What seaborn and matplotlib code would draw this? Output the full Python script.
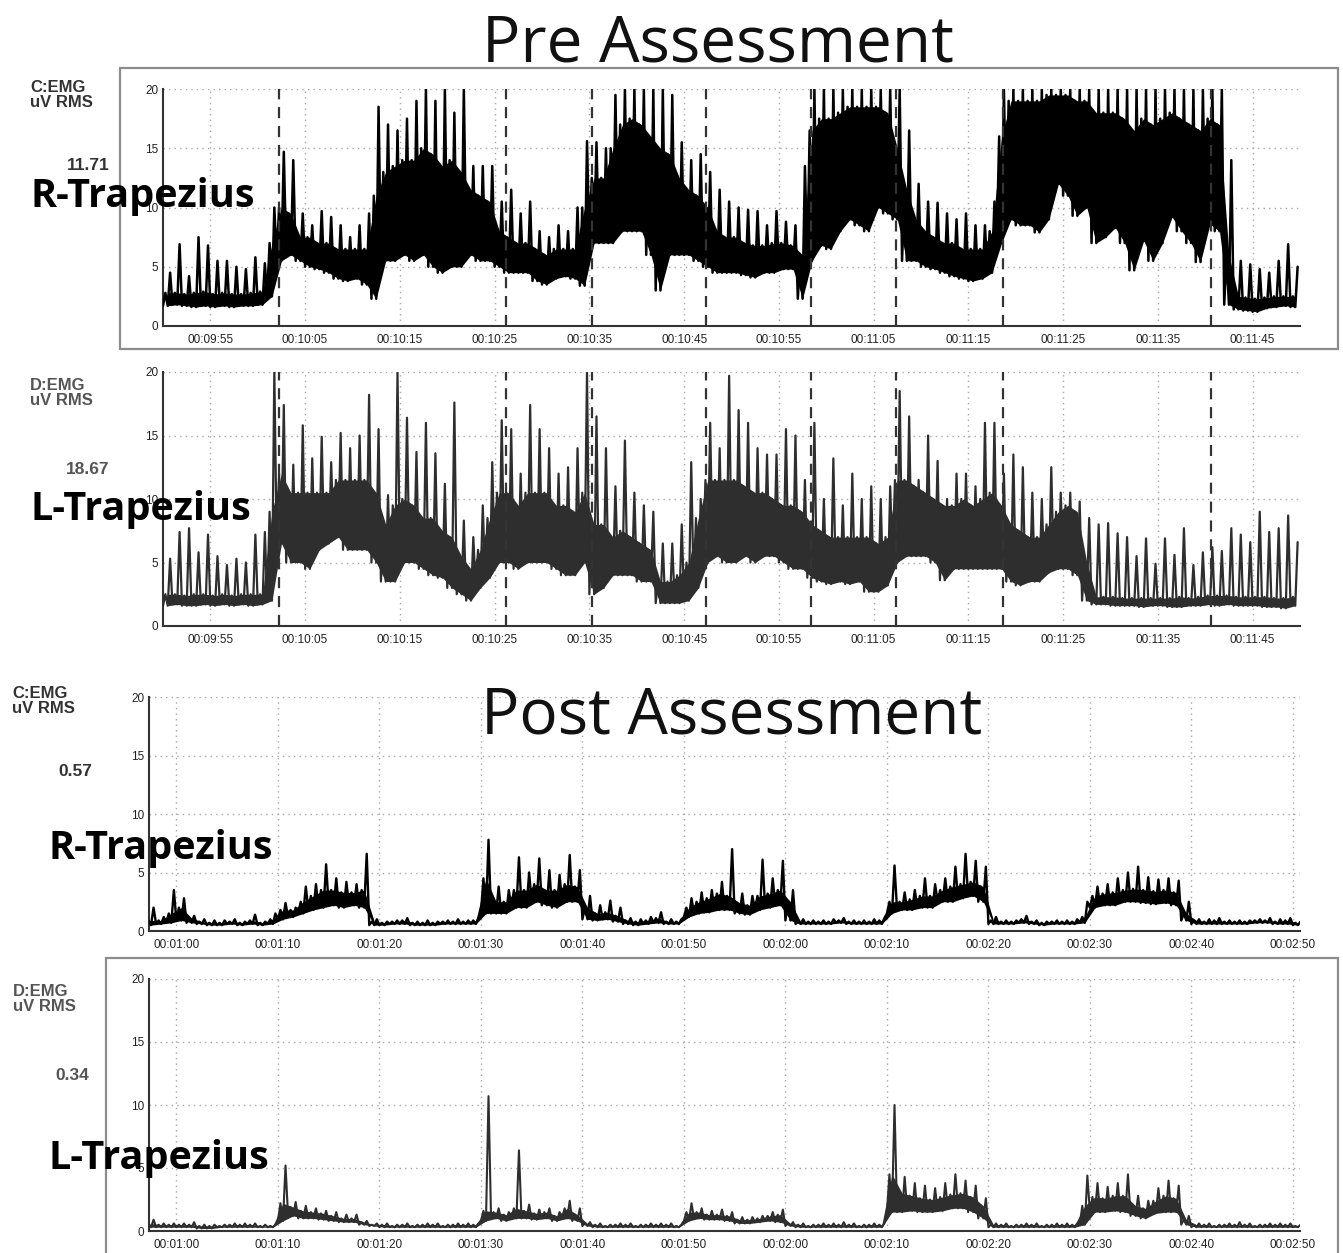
import matplotlib
matplotlib.use("Agg")
import matplotlib.pyplot as plt
import seaborn as sns
import pandas as pd
from matplotlib.patches import Rectangle
from matplotlib.ticker import MultipleLocator

# ---------------- DATA (uV RMS, one bin per second: trough / dense band top / spike) -------------
pre_start = 590  # 00:09:50 in seconds
pre_r_lo = [1.7,1.8,1.7,1.6,1.7,1.6,1.7,1.6,1.7,1.7,
            1.8,2.5,5.5,6.0,5.5,5.0,4.8,4.5,4.0,3.8,
            4.0,3.5,2.3,5.5,5.5,6.0,5.5,6.0,5.0,4.5,
            5.0,5.0,6.0,5.5,5.5,5.0,4.5,4.5,4.5,3.8,
            3.5,4.0,4.2,4.0,3.4,7.0,7.0,7.0,8.0,8.0,
            8.0,6.0,3.0,6.0,6.0,6.0,5.5,5.0,4.5,4.5,
            4.5,4.3,4.1,4.5,4.5,4.8,4.8,2.3,5.5,6.8,
            6.5,8.0,9.0,8.5,8.0,10.0,9.5,9.0,5.5,5.5,
            5.0,4.8,4.5,4.2,4.0,3.8,4.0,4.5,7.0,9.0,
            8.5,8.5,7.9,9.0,12.0,11.0,9.3,10.0,7.0,7.5,
            8.3,7.0,4.7,7.2,5.5,7.0,9.2,8.0,7.0,5.4,
            8.6,8.0,1.8,1.4,1.3,1.2,1.5,1.6,1.7,1.6]
pre_r_band = [2.8,2.8,2.7,2.8,2.9,2.7,2.8,2.7,2.7,2.8,
              2.9,7.0,10.0,9.5,7.5,7.5,7.0,7.0,6.5,6.5,
              6.5,6.5,11.0,13.0,13.5,14.0,14.0,15.0,14.5,13.5,
              14.0,13.0,11.5,11.0,10.5,8.0,7.5,7.0,7.0,6.5,
              6.0,6.5,6.5,6.5,10.0,12.5,12.5,15.0,17.0,17.5,
              17.0,16.0,15.0,14.5,12.5,11.5,11.0,10.0,8.0,7.5,
              7.5,7.0,6.8,6.8,7.0,7.0,6.8,6.0,16.5,17.5,
              17.5,18.0,18.5,18.5,18.5,18.5,18.0,15.0,11.5,9.0,
              8.0,7.5,7.0,7.0,6.5,6.5,6.5,8.0,16.0,19.0,
              19.0,19.0,19.0,19.5,19.5,19.5,19.0,19.0,18.0,18.0,
              18.0,17.5,16.5,17.5,17.0,17.5,18.0,17.5,17.0,16.5,
              17.5,17.0,6.0,2.5,2.4,2.3,2.4,2.5,2.5,2.5]
pre_r_peak = [4.5,6.9,4.2,7.5,6.8,5.5,5.5,5.0,4.8,5.8,
              5.3,10.0,14.7,14.0,9.5,8.5,9.7,9.2,8.5,7.5,
              8.5,9.5,18.5,17.0,16.5,17.5,19.0,20.0,19.0,20.0,
              18.0,20.0,13.5,13.5,13.5,10.5,11.5,9.5,10.5,8.0,
              7.5,8.5,8.0,10.0,15.6,15.5,15.0,19.5,20.0,20.0,
              20.0,20.0,20.0,19.5,15.5,14.0,14.5,13.0,11.5,10.5,
              10.0,9.8,9.7,8.5,9.7,8.8,8.5,13.5,20.0,20.0,
              20.0,20.0,20.0,20.0,20.0,20.0,20.0,20.0,16.5,12.0,
              10.5,10.4,9.5,9.0,9.5,8.5,8.5,10.5,20.0,20.0,
              20.0,20.0,20.0,20.0,20.0,20.0,20.0,20.0,20.0,20.0,
              20.0,20.0,20.0,20.0,20.0,20.0,20.0,20.0,20.0,20.0,
              20.0,20.0,14.0,5.5,5.2,4.8,4.5,5.5,6.9,5.0]

pre_l_lo = [1.6,1.7,1.6,1.6,1.7,1.6,1.7,1.6,1.7,1.6,
            1.7,2.0,6.5,5.0,5.0,4.5,6.0,6.5,7.0,6.0,
            6.0,6.0,5.0,3.5,3.5,5.0,5.0,4.5,4.0,3.8,
            3.0,2.5,2.0,3.0,3.8,5.0,5.0,4.5,5.0,5.0,
            5.0,4.5,4.0,4.0,5.0,2.5,3.0,4.0,4.0,4.0,
            3.5,3.5,1.8,1.8,1.8,2.0,3.0,5.0,5.5,5.0,
            5.0,5.5,5.0,5.5,5.5,5.0,4.5,4.5,3.8,3.5,
            3.3,3.5,3.3,3.5,2.7,2.7,3.2,5.0,5.5,5.5,
            5.5,5.0,3.6,4.5,4.5,4.5,4.5,4.5,4.5,3.5,
            3.2,3.5,3.5,4.2,4.5,4.5,4.0,2.0,1.7,1.7,
            1.6,1.6,1.6,1.5,1.6,1.6,1.5,1.5,1.6,1.6,
            1.7,1.6,1.7,1.6,1.6,1.6,1.5,1.5,1.4,1.6]
pre_l_band = [2.5,2.5,2.4,2.5,2.5,2.4,2.5,2.4,2.5,2.5,
              2.5,9.0,12.0,10.5,10.5,10.5,10.5,10.5,11.5,11.5,
              11.5,11.5,10.5,8.0,9.5,10.0,9.5,8.5,8.5,7.5,
              7.0,5.5,4.5,6.0,8.5,10.5,10.5,9.5,10.5,10.5,
              10.5,9.5,9.5,9.0,10.5,8.0,8.0,7.0,7.5,7.0,
              6.5,6.0,3.5,3.5,4.0,5.0,8.5,11.5,11.5,11.5,
              11.5,11.0,10.5,10.5,10.0,9.5,9.5,9.0,8.0,7.5,
              7.0,7.0,7.0,7.0,7.0,6.5,7.0,11.5,11.5,11.0,
              10.5,10.0,9.5,9.5,10.0,9.5,10.0,10.5,9.5,8.0,
              7.5,7.0,7.0,8.0,9.0,9.5,9.0,5.0,2.3,2.3,
              2.3,2.2,2.2,2.2,2.2,2.2,2.2,2.3,2.2,2.3,
              2.4,2.4,2.4,2.3,2.3,2.3,2.3,2.2,2.2,2.3]
pre_l_peak = [5.3,7.4,7.7,5.8,7.2,5.5,4.8,5.3,5.0,7.2,
              7.4,20.0,17.4,12.7,15.8,13.2,14.9,12.9,15.2,14.0,
              15.0,18.2,15.5,10.3,20.0,16.4,13.7,16.0,13.6,11.2,
              17.6,8.3,7.0,9.5,12.9,16.2,15.5,12.0,17.4,15.5,
              14.0,12.0,12.5,14.0,20.0,16.5,14.0,11.0,14.6,10.5,
              9.5,9.0,6.5,6.5,8.0,12.9,10.0,16.0,14.0,19.7,
              17.0,16.0,14.0,13.5,13.5,15.5,15.0,11.5,16.0,10.0,
              13.2,9.5,12.0,10.0,11.0,10.0,11.0,18.5,16.5,11.5,
              15.0,13.0,10.0,12.0,12.0,11.0,16.0,16.0,12.0,13.5,
              12.5,10.5,10.0,12.5,10.5,10.5,9.8,8.5,8.0,8.1,
              7.3,7.0,5.5,6.9,4.9,6.9,5.6,7.7,4.8,5.8,
              6.2,5.9,7.7,7.2,6.6,9.0,7.4,7.7,8.7,6.6]

pre_markers = [602.25, 626.2, 635.25, 647.3, 658.4, 667.4, 678.7, 700.6]
pre_tick_seconds = [595, 605, 615, 625, 635, 645, 655, 665, 675, 685, 695, 705]
pre_tick_labels = ["00:09:55", "00:10:05", "00:10:15", "00:10:25", "00:10:35", "00:10:45",
                   "00:10:55", "00:11:05", "00:11:15", "00:11:25", "00:11:35", "00:11:45"]

post_start = 57  # seconds
post_r_lo = [0.5,0.6,0.7,0.9,0.7,0.6,0.5,0.5,0.6,0.5,
             0.6,0.5,0.6,1.0,1.2,1.5,1.8,2.0,2.2,2.0,
             2.2,2.0,0.5,0.5,0.6,0.6,0.5,0.5,0.5,0.6,
             0.6,0.6,0.6,1.5,1.5,1.5,2.0,2.0,2.5,2.2,
             2.0,2.5,2.5,1.0,0.9,1.0,0.8,0.6,0.5,0.6,
             0.7,0.6,0.6,1.2,1.5,1.6,1.8,1.8,1.5,1.4,
             1.8,2.0,2.2,0.9,0.6,0.6,0.6,0.6,0.7,0.6,
             0.6,0.6,0.6,1.5,1.8,1.8,2.0,2.0,2.5,2.5,
             2.8,3.0,2.5,0.6,0.6,0.6,0.7,0.6,0.5,0.6,
             0.6,0.6,0.7,2.0,2.2,2.2,2.5,2.5,2.4,2.3,
             2.4,2.2,0.9,0.6,0.6,0.6,0.6,0.6,0.6,0.7,
             0.7,0.6,0.6,0.5]
post_r_band = [0.9,0.9,1.5,2.0,1.1,0.8,0.7,0.7,0.8,0.7,
               0.9,0.7,1.0,1.8,1.8,2.5,3.0,3.5,3.5,3.3,
               3.3,3.5,0.8,0.7,0.8,0.9,0.7,0.7,0.7,0.8,
               0.8,0.8,0.9,4.5,2.5,2.5,3.5,3.5,4.0,3.5,
               3.5,4.0,3.8,2.0,1.5,1.6,1.3,0.9,0.8,0.9,
               1.1,0.8,0.8,2.0,2.5,2.8,3.2,3.0,2.4,2.2,
               3.0,3.2,3.5,2.5,0.8,0.8,0.8,0.8,0.9,0.8,
               0.8,0.8,0.9,2.5,2.5,2.7,3.0,3.0,3.5,3.8,
               4.0,4.2,3.8,0.9,0.8,0.8,1.0,0.8,0.7,0.8,
               0.8,0.8,1.2,3.0,3.2,3.3,3.5,3.6,3.5,3.4,
               3.5,3.3,1.5,0.9,0.8,0.9,0.8,0.8,0.8,0.9,
               0.9,0.8,0.9,0.7]
post_r_peak = [2.0,1.2,3.5,2.8,1.3,1.0,0.9,0.9,1.0,0.8,
               1.4,0.8,1.5,2.4,2.0,3.8,4.0,5.7,4.5,4.2,
               4.0,6.6,1.0,0.8,0.9,1.1,0.8,0.9,0.8,0.9,
               1.0,0.9,1.1,7.8,3.8,3.5,6.3,5.0,6.2,5.2,
               4.8,6.5,5.2,3.0,2.2,2.6,2.0,1.1,1.0,1.2,
               1.6,1.0,1.0,2.8,3.3,3.5,4.2,7.0,3.2,3.0,
               6.1,4.5,6.0,3.5,1.0,0.9,0.9,1.0,1.1,0.9,
               0.9,1.0,1.1,5.6,3.3,3.5,4.5,4.0,4.5,5.5,
               6.6,6.0,5.5,1.2,0.9,0.9,1.3,0.9,0.8,0.9,
               0.9,1.0,2.5,3.8,4.0,4.5,5.0,5.5,4.6,4.4,
               4.5,4.3,2.5,1.0,1.0,1.1,0.9,0.9,0.9,1.0,
               1.1,1.0,1.1,0.8]

post_l_lo = [0.3,0.3,0.3,0.3,0.3,0.2,0.2,0.3,0.3,0.3,
             0.3,0.3,0.3,0.8,1.2,1.0,1.0,0.9,0.8,0.7,
             0.7,0.5,0.4,0.3,0.3,0.3,0.3,0.3,0.3,0.3,
             0.3,0.3,0.3,0.8,1.0,0.8,1.0,1.0,0.9,1.0,
             0.8,1.0,0.8,0.4,0.3,0.3,0.3,0.3,0.3,0.3,
             0.3,0.3,0.3,0.8,1.0,0.9,0.9,0.8,0.6,0.6,
             0.7,0.8,0.7,0.4,0.3,0.3,0.3,0.3,0.3,0.3,
             0.3,0.3,0.3,1.5,1.5,1.6,1.5,1.5,1.6,1.8,
             1.8,1.5,1.0,0.3,0.3,0.3,0.3,0.3,0.3,0.3,
             0.3,0.3,0.5,1.5,1.5,1.6,1.5,1.2,1.0,1.4,
             1.5,1.5,0.5,0.3,0.3,0.3,0.3,0.3,0.3,0.3,
             0.3,0.3,0.3,0.3]
post_l_band = [0.6,0.5,0.5,0.5,0.5,0.4,0.4,0.4,0.5,0.5,
               0.5,0.4,0.4,2.2,1.9,1.6,1.5,1.4,1.2,1.0,
               1.0,0.7,0.5,0.5,0.4,0.5,0.4,0.5,0.5,0.4,
               0.5,0.5,0.5,1.6,1.5,1.3,1.8,1.6,1.4,1.5,
               1.2,1.8,1.3,0.6,0.5,0.4,0.5,0.5,0.4,0.5,
               0.5,0.5,0.4,1.5,1.5,1.3,1.3,1.2,0.9,0.9,
               1.0,1.2,1.3,0.6,0.5,0.4,0.5,0.5,0.5,0.5,
               0.4,0.5,0.5,4.5,3.0,2.8,2.6,2.5,2.7,2.9,
               3.0,2.7,2.0,0.5,0.5,0.4,0.5,0.5,0.4,0.5,
               0.5,0.5,2.0,2.7,2.6,2.8,2.8,2.0,1.8,2.4,
               2.8,2.6,0.9,0.5,0.5,0.4,0.5,0.5,0.5,0.4,
               0.5,0.5,0.5,0.4]
post_l_peak = [0.9,0.6,0.6,0.6,0.7,0.5,0.5,0.5,0.6,0.6,
               0.6,0.5,0.5,5.2,2.3,2.0,1.8,1.6,1.5,1.3,
               1.3,0.8,0.6,0.6,0.5,0.6,0.5,0.6,0.6,0.5,
               0.6,0.6,0.6,10.7,1.8,1.5,6.4,2.1,1.7,1.8,
               1.5,2.4,1.8,0.7,0.6,0.5,0.6,0.6,0.5,0.6,
               0.6,0.6,0.5,2.2,1.8,1.6,1.7,1.5,1.1,1.1,
               1.2,1.5,1.7,0.7,0.6,0.5,0.6,0.6,0.7,0.6,
               0.5,0.6,0.6,10.0,4.3,3.8,3.6,3.4,3.8,4.5,
               4.0,3.6,2.6,0.6,0.6,0.5,0.6,0.6,0.5,0.6,
               0.6,0.6,4.4,3.8,3.5,3.8,4.5,2.8,2.4,3.4,
               4.0,3.6,1.2,0.6,0.6,0.5,0.6,0.7,0.6,0.5,
               0.6,0.6,0.6,0.5]

post_tick_seconds = [60, 70, 80, 90, 100, 110, 120, 130, 140, 150, 160, 170]
post_tick_labels = ["00:01:00", "00:01:10", "00:01:20", "00:01:30", "00:01:40", "00:01:50",
                    "00:02:00", "00:02:10", "00:02:20", "00:02:30", "00:02:40", "00:02:50"]

y_ticks = [0, 5, 10, 15, 20]

# ---------------- FIGURE ----------------
sns.set_theme(style="white")
plt.rcParams['font.family'] = ['Liberation Sans', 'DejaVu Sans']

W, H = 1343, 1253
fig = plt.figure(figsize=(W / 100, H / 100), dpi=100)
fig.patch.set_facecolor("white")


def to_frame(start, lo, band, peak):
    t, y = [], []
    for i, (a, b, c) in enumerate(zip(lo, band, peak)):
        s = start + i
        t += [s, s + 0.25, s + 0.5, s + 0.75]
        y += [a, b, a, c]
    return pd.DataFrame({"t": t, "uV": y})


def panel(box, start, lo, band, peak, xlim, ticks, labels, color, lw, markers=()):
    left, top, right, bottom = box
    ax = fig.add_axes([left / W, 1 - bottom / H, (right - left) / W, (bottom - top) / H])
    ax.set_facecolor("none")
    centers = [start + i + 0.5 for i in range(len(lo))]
    ax.fill_between(centers, lo, band, color=color, lw=0, zorder=2.5)
    df = to_frame(start, lo, band, peak)
    sns.lineplot(data=df, x="t", y="uV", ax=ax, color=color, linewidth=lw,
                 estimator=None, sort=False, legend=False, zorder=3)
    for m in markers:
        ax.axvline(m, color="#333333", lw=1.6, ls=(0, (5, 3.5)), zorder=4)
    ax.set_xlim(*xlim)
    ax.set_ylim(0, 20)
    ax.set_xticks(ticks)
    ax.set_xticklabels(labels)
    ax.xaxis.set_minor_locator(MultipleLocator(5))
    ax.set_yticks(y_ticks)
    ax.yaxis.set_minor_locator(MultipleLocator(2.5))
    ax.grid(True, which="major", ls=(0, (1, 3)), color="#a8a8a8", lw=1.0)
    ax.set_axisbelow(True)
    ax.set_xlabel("")
    ax.set_ylabel("")
    for s in ["top", "right"]:
        ax.spines[s].set_visible(False)
    for s in ["left", "bottom"]:
        ax.spines[s].set_color("#333333")
        ax.spines[s].set_linewidth(1.5)
    ax.tick_params(which="both", direction="inout", colors="#333333", labelsize=8.5,
                   labelcolor="#222222")
    ax.tick_params(which="major", length=5, width=1.2, pad=3)
    ax.tick_params(which="minor", length=4, width=1.2)
    ax.tick_params(axis="y", pad=1)
    return ax


panel((163, 89, 1300, 326), pre_start, pre_r_lo, pre_r_band, pre_r_peak,
      (590, 710), pre_tick_seconds, pre_tick_labels, "#000000", 1.8, pre_markers)
panel((163, 372, 1300, 626), pre_start, pre_l_lo, pre_l_band, pre_l_peak,
      (590, 710), pre_tick_seconds, pre_tick_labels, "#2e2e2e", 1.6, pre_markers)
panel((149, 697, 1300, 931), post_start, post_r_lo, post_r_band, post_r_peak,
      (57.3, 170.7), post_tick_seconds, post_tick_labels, "#000000", 1.7)
panel((149, 979, 1300, 1231), post_start, post_l_lo, post_l_band, post_l_peak,
      (57.3, 170.7), post_tick_seconds, post_tick_labels, "#2e2e2e", 1.5)

# frames
fig.add_artist(Rectangle((120 / W, 1 - 349 / H), (1338 - 120) / W, (349 - 68) / H,
                         fill=False, ec="#8c8c8c", lw=1.6, transform=fig.transFigure))
fig.add_artist(Rectangle((106 / W, 1 - 1262 / H), (1338 - 106) / W, (1262 - 958) / H,
                         fill=False, ec="#8c8c8c", lw=1.6, transform=fig.transFigure))


def ftext(x, y, s, **kw):
    fig.text(x / W, 1 - y / H, s, **kw)


ftext(718, 44, "Pre Assessment", ha="center", va="center", fontsize=46,
      family="Open Sans", color="#111111")
ftext(732, 717, "Post Assessment", ha="center", va="center", fontsize=46,
      family="Open Sans", color="#111111")

small = dict(ha="left", va="top", fontsize=12, fontweight="bold", linespacing=1.0)
big = dict(ha="left", va="center", fontsize=28.5, fontweight="bold", family="Open Sans",
           color="#000000", zorder=10)

ftext(30, 80, "C:EMG\nuV RMS", color="#333333", **small)
ftext(88, 165, "11.71", ha="center", va="center", fontsize=12.5, fontweight="bold", color="#333333")
ftext(30, 197, "R-Trapezius", **big)

ftext(30, 378, "D:EMG\nuV RMS", color="#555555", **small)
ftext(88, 469, "18.67", ha="center", va="center", fontsize=12.5, fontweight="bold", color="#555555")
ftext(30, 509, "L-Trapezius", **big)

ftext(12, 686, "C:EMG\nuV RMS", color="#333333", **small)
ftext(75, 772, "0.57", ha="center", va="center", fontsize=12.5, fontweight="bold", color="#333333")
ftext(48, 848, "R-Trapezius", **big)

ftext(13, 984, "D:EMG\nuV RMS", color="#555555", **small)
ftext(72, 1076, "0.34", ha="center", va="center", fontsize=12.5, fontweight="bold", color="#555555")
ftext(48, 1158, "L-Trapezius", **big)

fig.savefig("out.png", dpi=100, facecolor="white")
